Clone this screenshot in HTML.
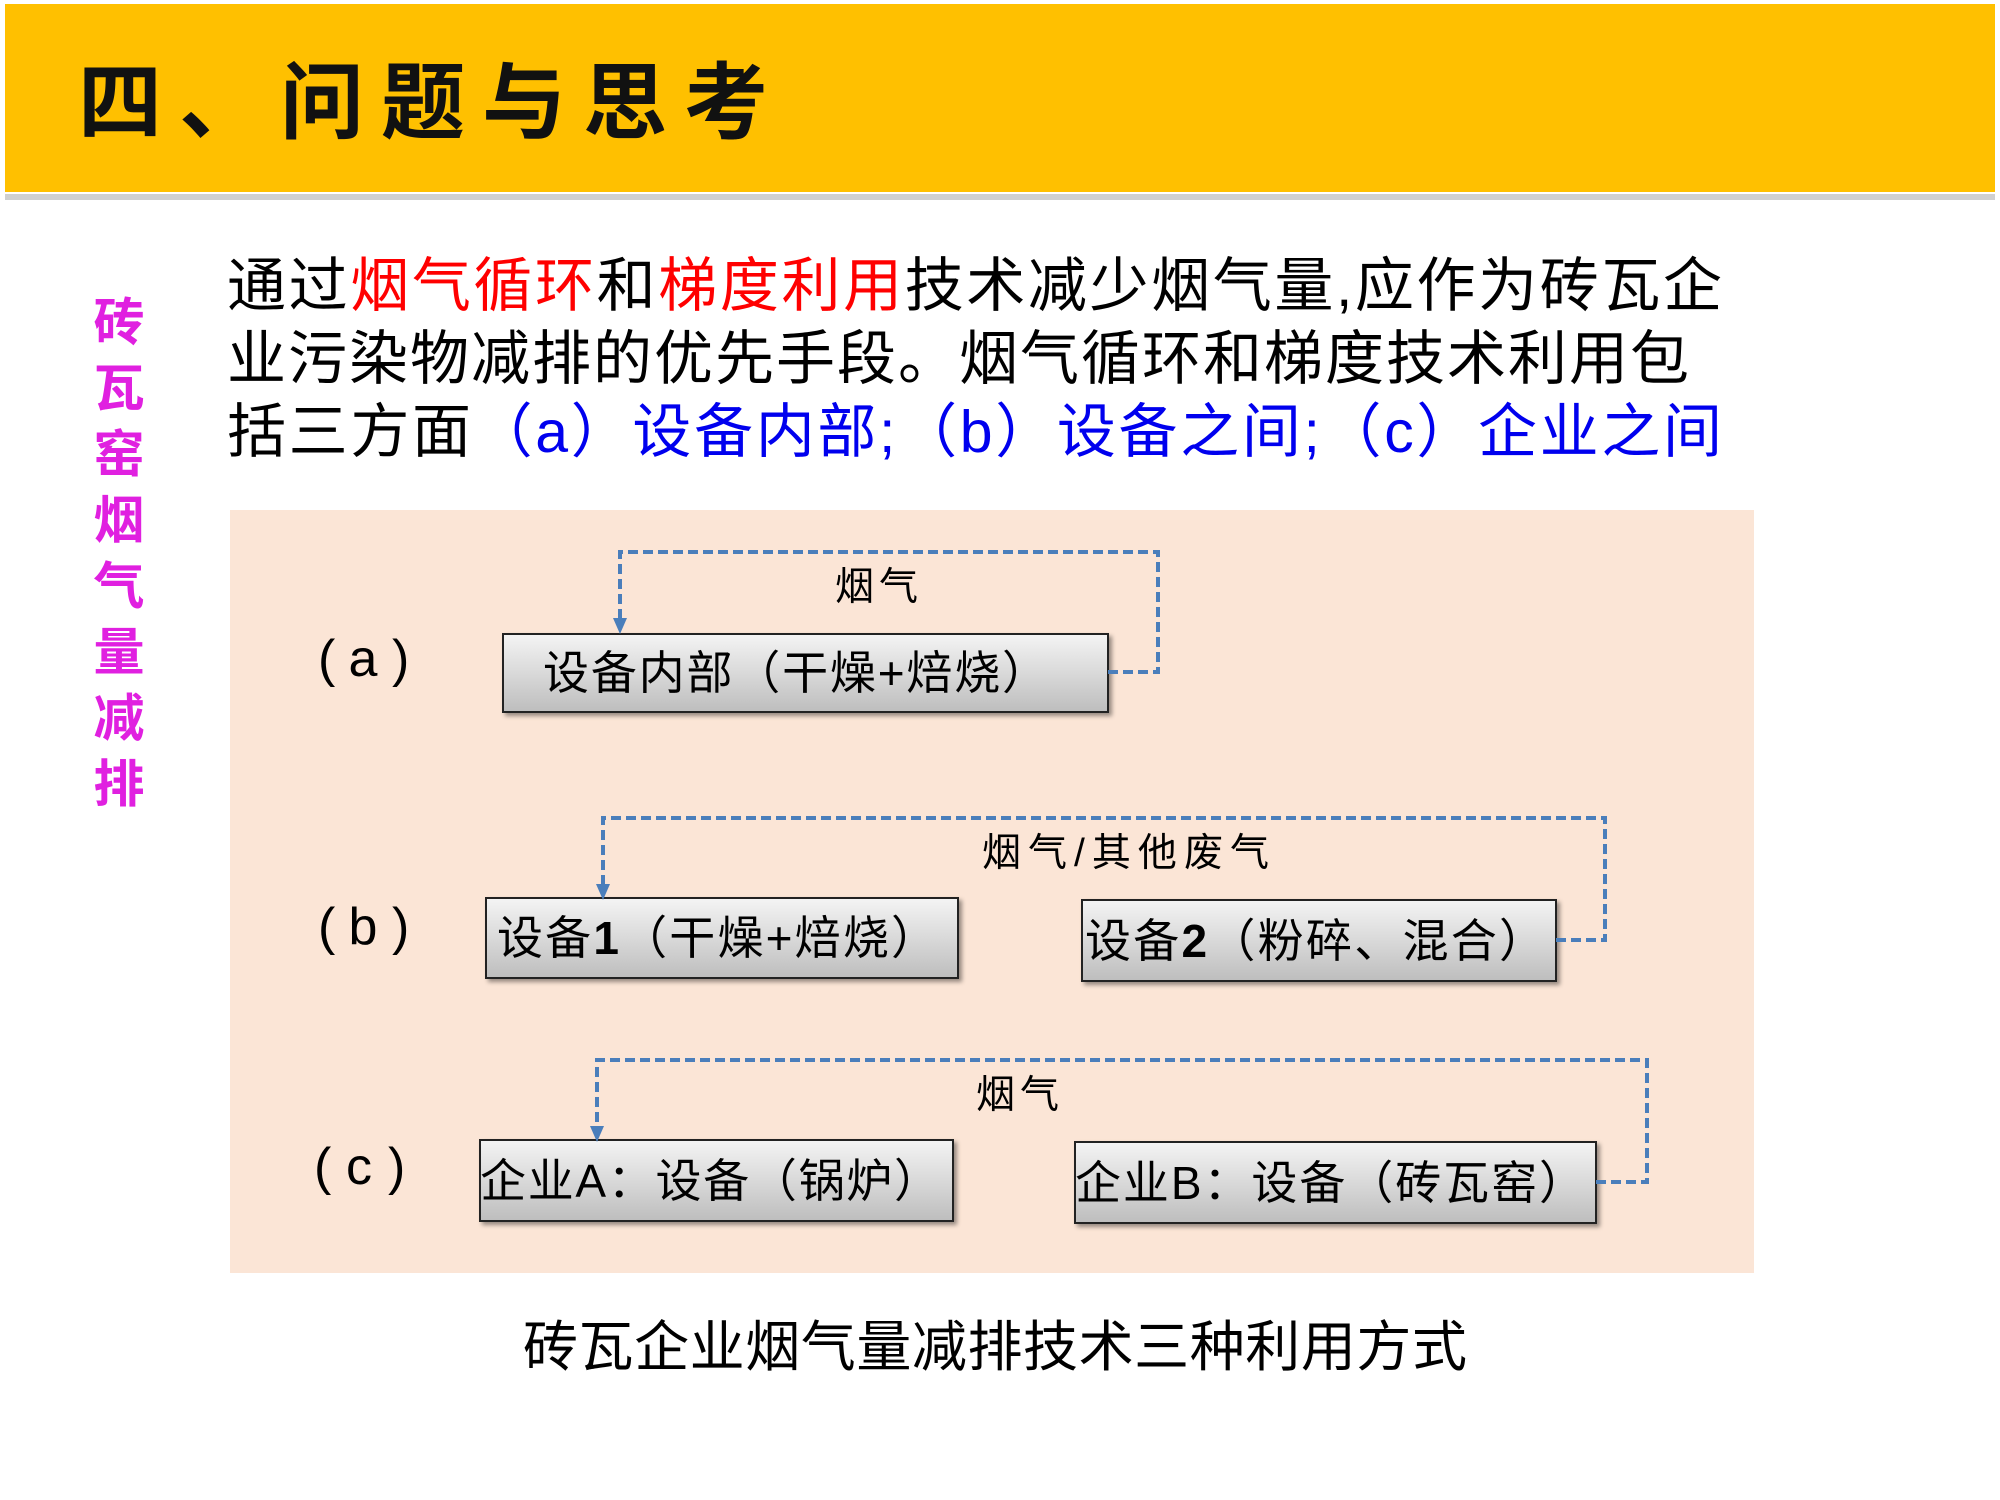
<!DOCTYPE html>
<html><head><meta charset="utf-8"><style>
html,body{margin:0;padding:0;background:#fff;}
svg{display:block;}
text{font-family:"Liberation Sans","Noto Sans CJK SC",sans-serif;}
</style></head><body>
<svg width="2000" height="1500" viewBox="0 0 2000 1500" xmlns="http://www.w3.org/2000/svg">
<defs>
<linearGradient id="g" x1="0" y1="0" x2="0" y2="1">
<stop offset="0" stop-color="#f4f4f4"/><stop offset="0.5" stop-color="#d9d9d9"/><stop offset="1" stop-color="#bdbdbd"/>
</linearGradient>
</defs>
<rect x="0" y="0" width="2000" height="1500" fill="#fff"/>
<rect x="5" y="4" width="1990" height="188" fill="#ffc000"/>
<rect x="5" y="194" width="1990" height="6" fill="#d0d0d0"/>
<text x="78" y="132" font-size="84" font-weight="bold" fill="#111" textLength="690">四、问题与思考</text>

<g font-size="51" font-weight="bold" fill="#e020e0" text-anchor="middle">
<text x="119" y="340">砖</text><text x="119" y="406">瓦</text><text x="119" y="472">窑</text><text x="119" y="538">烟</text>
<text x="119" y="604">气</text><text x="119" y="670">量</text><text x="119" y="736">减</text><text x="119" y="802">排</text>
</g>

<g font-size="59" fill="#000">
<text x="227" y="306" textLength="1495"><tspan>通过</tspan><tspan fill="#ff0000">烟气循环</tspan><tspan>和</tspan><tspan fill="#ff0000">梯度利用</tspan><tspan>技术减少烟气量,应作为砖瓦企</tspan></text>
<text x="227" y="379" textLength="1462">业污染物减排的优先手段。烟气循环和梯度技术利用包</text>
<text x="227" y="452" textLength="1495"><tspan>括三方面</tspan><tspan fill="#0000ee">（a）设备内部;（b）设备之间;（c）企业之间</tspan></text>
</g>

<rect x="230" y="510" width="1524" height="763" fill="#fbe5d6"/>

<g font-size="52" fill="#000">
<text x="318" y="676">(</text><text x="363" y="676" text-anchor="middle">a</text><text x="392" y="676">)</text>
<text x="318" y="944">(</text><text x="363" y="944" text-anchor="middle">b</text><text x="392" y="944">)</text>
<text x="314" y="1184">(</text><text x="359" y="1184" text-anchor="middle">c</text><text x="388" y="1184">)</text>
</g>

<g fill="url(#g)" stroke="#222" stroke-width="2">
<rect x="503" y="634" width="605" height="78" style="filter:drop-shadow(3px 3px 2px rgba(0,0,0,.4))"/>
<rect x="486" y="898" width="472" height="80" style="filter:drop-shadow(3px 3px 2px rgba(0,0,0,.4))"/>
<rect x="1082" y="900" width="474" height="81" style="filter:drop-shadow(3px 3px 2px rgba(0,0,0,.4))"/>
<rect x="480" y="1140" width="473" height="81" style="filter:drop-shadow(3px 3px 2px rgba(0,0,0,.4))"/>
<rect x="1075" y="1142" width="521" height="81" style="filter:drop-shadow(3px 3px 2px rgba(0,0,0,.4))"/>
</g>

<g font-size="46" fill="#000">
<text x="543" y="689" textLength="505">设备内部（干燥+焙烧）</text>
<text x="497" y="954" textLength="440">设备<tspan font-weight="bold">1</tspan>（干燥+焙烧）</text>
<text x="1085" y="957" textLength="460">设备<tspan font-weight="bold">2</tspan>（粉碎、混合）</text>
<text x="480" y="1197" textLength="460">企业A：设备（锅炉）</text>
<text x="1075" y="1199" textLength="510">企业B：设备（砖瓦窑）</text>
</g>

<g fill="none" stroke="#4a7ebb" stroke-width="4" stroke-dasharray="10,5">
<polyline points="1108,672 1158,672 1158,552 620,552 620,620"/>
<polyline points="1556,940 1605,940 1605,818 603,818 603,886"/>
<polyline points="1596,1182 1647,1182 1647,1060 597,1060 597,1128"/>
</g>
<g fill="#4a7ebb">
<path d="M613,618 L627,618 L620,634 z"/>
<path d="M596,884 L610,884 L603,900 z"/>
<path d="M590,1126 L604,1126 L597,1142 z"/>
</g>

<g font-size="39" fill="#000">
<text x="835" y="600" textLength="83">烟气</text>
<text x="982" y="866" textLength="287">烟气/其他废气</text>
<text x="976" y="1108" textLength="83">烟气</text>
</g>

<text x="523" y="1366" font-size="55" fill="#000" textLength="944">砖瓦企业烟气量减排技术三种利用方式</text>
</svg>
</body></html>
